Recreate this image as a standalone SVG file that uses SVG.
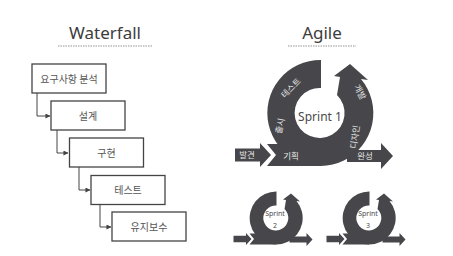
<svg xmlns="http://www.w3.org/2000/svg" xmlns:xlink="http://www.w3.org/1999/xlink" width="453" height="256" viewBox="0 0 453 256">
<style>
.title{font-family:"Noto Sans","Noto Sans CJK KR",sans-serif;font-size:17px;fill:#3c3c3c;text-anchor:middle}
.dash{stroke:#777;stroke-width:0.8;stroke-dasharray:1.5 1;fill:none}
.box{fill:#fff;stroke:#444;stroke-width:1.3}
.bt{font-family:"Noto Sans CJK KR","Noto Sans",sans-serif;font-size:10px;fill:#555;text-anchor:middle}
.conn{fill:none;stroke:#444;stroke-width:1}
.dk{fill:#47474b}
.wt{font-family:"Noto Sans CJK KR","Noto Sans",sans-serif;font-size:8.5px;fill:#e6e6e6;text-anchor:middle}
.sp{font-family:"Noto Sans","Noto Sans CJK KR",sans-serif;fill:#4a4a4a;text-anchor:middle}
</style>
<defs>
<marker id="ah" viewBox="0 0 6 6" refX="5.5" refY="3" markerWidth="5" markerHeight="5" orient="auto" markerUnits="userSpaceOnUse">
<path d="M0,0 L6,3 L0,6 Z" fill="#444"/>
</marker>
<g id="cycle">
<path class="dk" d="M321 60 A53 53 0 1 0 361 79 L368 80 L350 64 L334 76 L340 77 L337 95 A25 25 0 1 1 321 88 Z"/>
<path class="dk" d="M267 144 L320 144 L320 166 L267 166 L276 155 Z"/>
<path class="dk" d="M235 148.5 L260 148.5 L260 143 L271 155 L260 167 L260 161.5 L235 161.5 Z"/>
<path class="dk" d="M347 150 L381 150 L381 143 L393 156 L381 169 L381 162 L347 162 Z"/>
</g>
</defs>

<g id="waterfall-title">
<text class="title" x="105" y="38.5">Waterfall</text>
<line class="dash" x1="58" y1="46" x2="152" y2="46"/>
</g>
<g id="agile-title">
<text class="title" x="322" y="38.5">Agile</text>
<line class="dash" x1="288" y1="46" x2="356" y2="46"/>
</g>

<g id="connectors">
<path class="conn" d="M37 93 V116 H50" marker-end="url(#ah)"/>
<path class="conn" d="M57 130 V153 H68" marker-end="url(#ah)"/>
<path class="conn" d="M79 167 V190 H90" marker-end="url(#ah)"/>
<path class="conn" d="M100 204 V227 H111" marker-end="url(#ah)"/>
</g>

<g id="wf1"><rect class="box" x="32" y="64" width="74" height="29"/><text class="bt" x="69" y="82.5">요구사항 분석</text></g>
<g id="wf2"><rect class="box" x="51" y="101" width="74" height="29"/><text class="bt" x="88" y="119.5">설계</text></g>
<g id="wf3"><rect class="box" x="69.5" y="138" width="74" height="29"/><text class="bt" x="106.5" y="156.5">구현</text></g>
<g id="wf4"><rect class="box" x="91" y="175.5" width="74" height="29"/><text class="bt" x="128" y="194">테스트</text></g>
<g id="wf5"><rect class="box" x="112" y="212" width="74" height="29"/><text class="bt" x="149" y="230.5">유지보수</text></g>

<g id="sprint1">
<use xlink:href="#cycle" href="#cycle"/>
<text class="sp" x="320" y="121" font-size="12">Sprint 1</text>
<text class="wt" x="247" y="158">발견</text>
<text class="wt" x="291" y="158.5">기획</text>
<text class="wt" x="365" y="159">완성</text>
<text class="wt" transform="translate(291 88) rotate(-45)" y="3">테스트</text>
<text class="wt" transform="translate(280 126) rotate(-78)" y="3">출시</text>
<text class="wt" transform="translate(360 92) rotate(62)" y="3">개발</text>
<text class="wt" transform="translate(355 137) rotate(-82)" y="3">디자인</text>
</g>

<g id="sprint2">
<use xlink:href="#cycle" href="#cycle" transform="translate(276 218) scale(0.5) translate(-320 -113)"/>
<text class="sp" x="275" y="216" font-size="7">Sprint</text>
<text class="sp" x="275" y="227.5" font-size="7">2</text>
</g>

<g id="sprint3">
<use xlink:href="#cycle" href="#cycle" transform="translate(369 218) scale(0.5) translate(-320 -113)"/>
<text class="sp" x="368" y="216" font-size="7">Sprint</text>
<text class="sp" x="368" y="227.5" font-size="7">3</text>
</g>
</svg>
